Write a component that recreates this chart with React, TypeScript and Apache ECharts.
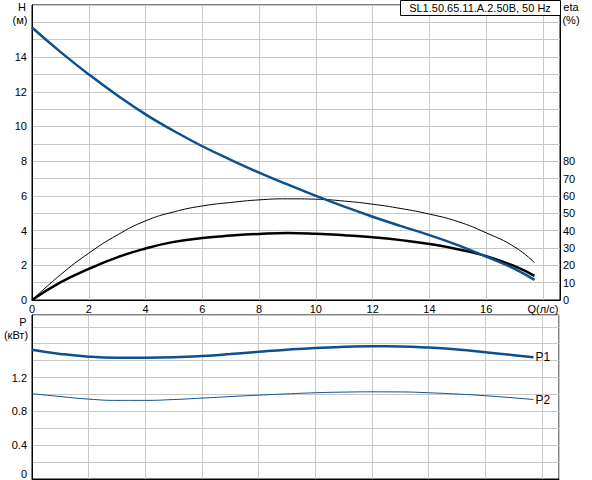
import { useEffect, useRef } from 'react';
import * as echarts from 'echarts';

// Q (л/с) sample points shared by all curves
const Q = [0, 1, 2, 3, 4, 5, 6, 7, 8, 9, 10, 11, 12, 13, 14, 15, 16, 17, 17.7];

// head H (м)
const H = [15.7, 14.3, 13.0, 11.8, 10.7, 9.74, 8.86, 8.08, 7.34, 6.66, 6.0, 5.38, 4.8, 4.26, 3.74, 3.16, 2.5, 1.8, 1.16];

// efficiencies (%)
const ETA_THICK = [0, 10.2, 17.9, 24.6, 29.7, 33.5, 35.7, 37.1, 38.1, 38.6, 38.2, 37.3, 36.1, 34.5, 32.3, 29.3, 25.3, 19.5, 13.9];
const ETA_THIN = [0, 14.5, 27, 37.4, 45.6, 50.8, 54.2, 56.2, 57.7, 58.3, 58.1, 57, 55.2, 52.7, 49.5, 45.2, 38.7, 30.6, 21.6];

// power (кВт)
const P1 = [1.53, 1.48, 1.447, 1.435, 1.435, 1.44, 1.455, 1.478, 1.505, 1.53, 1.55, 1.563, 1.57, 1.568, 1.555, 1.532, 1.5, 1.465, 1.44];
const P2 = [1.01, 0.975, 0.945, 0.93, 0.93, 0.94, 0.957, 0.975, 0.992, 1.007, 1.02, 1.028, 1.031, 1.03, 1.02, 1.005, 0.985, 0.96, 0.94];

const TITLE = 'SL1.50.65.11.A.2.50B, 50 Hz';

const BLUE = '#0c508d';
const GRID = '#c8c8c8';
const FONT = 'Liberation Sans';

const pairs = (ys: number[]) => Q.map((q, i) => [q, ys[i]]);
const isMult = (v: number, step: number) => Math.abs(v / step - Math.round(v / step)) < 1e-6;

export default function App() {
  const ref = useRef<HTMLDivElement>(null);

  useEffect(() => {
    if (!ref.current) return;
    const chart = echarts.init(ref.current, undefined, { renderer: 'svg' });
    const lbl = { color: '#000', fontFamily: FONT, fontSize: 11 };
    const split = { show: true, lineStyle: { color: GRID, width: 1 } };
    const axLine = { show: true, lineStyle: { color: '#000', width: 1 } };
    const txt = (text: string, x: number, y: number, z = 1) => ({
      type: 'text', x, y, z,
      style: { text, fill: '#000', font: `11px "${FONT}"`, align: 'center', verticalAlign: 'middle' },
    });

    chart.setOption({
      animation: false,
      backgroundColor: '#fff',
      textStyle: { fontFamily: FONT },
      grid: [
        { left: 32, top: 5, width: 528, height: 295, show: true, borderColor: '#000', borderWidth: 1, backgroundColor: '#fff' },
        { left: 32, top: 315, width: 527, height: 164, show: true, borderColor: '#000', borderWidth: 1, backgroundColor: '#fff' },
      ],
      xAxis: [
        {
          type: 'value', gridIndex: 0, min: 0, max: 18.6, interval: 2,
          axisLine: axLine, axisTick: { show: false }, splitLine: split,
          axisLabel: {
            ...lbl, margin: 3,
            formatter: (v: number) => (Math.abs(v - 18) < 1e-6 ? 'Q(л/с)' : isMult(v, 2) && v <= 16 ? String(v) : ''),
          },
        },
        {
          type: 'value', gridIndex: 1, min: 0, max: 18.6, interval: 2,
          axisLine: axLine, axisTick: { show: false }, splitLine: split,
          axisLabel: { show: false },
        },
      ],
      yAxis: [
        {
          type: 'value', gridIndex: 0, min: 0, max: 17, interval: 1,
          axisLine: axLine, axisTick: { show: false }, splitLine: split,
          axisLabel: { ...lbl, margin: 5, formatter: (v: number) => (isMult(v, 2) && v <= 14 ? String(v) : '') },
        },
        {
          type: 'value', gridIndex: 0, position: 'right', min: 0, max: 170, interval: 10,
          axisLine: axLine, axisTick: { show: false }, splitLine: { show: false },
          axisLabel: { ...lbl, margin: 3, formatter: (v: number) => (isMult(v, 10) && v <= 80 ? String(v) : '') },
        },
        {
          type: 'value', gridIndex: 1, min: 0, max: 1.94, interval: 0.2,
          axisLine: axLine, axisTick: { show: false }, splitLine: split,
          axisLabel: {
            ...lbl, margin: 5,
            formatter: (v: number) => {
              if (v < 1e-6) return '{z|0}';
              return isMult(v, 0.4) && v <= 1.3 ? String(Math.round(v * 10) / 10) : '';
            },
            rich: { z: { ...lbl, padding: [0, 0, 10, 0] } },
          },
        },
      ],
      series: [
        {
          name: 'H', type: 'line', xAxisIndex: 0, yAxisIndex: 0, data: pairs(H),
          smooth: true, showSymbol: false, lineStyle: { color: BLUE, width: 2.5 }, z: 5,
        },
        {
          name: 'eta1', type: 'line', xAxisIndex: 0, yAxisIndex: 1, data: pairs(ETA_THIN),
          smooth: true, showSymbol: false, lineStyle: { color: '#000', width: 1 }, z: 3,
        },
        {
          name: 'eta2', type: 'line', xAxisIndex: 0, yAxisIndex: 1, data: pairs(ETA_THICK),
          smooth: true, showSymbol: false, lineStyle: { color: '#000', width: 2.5 }, z: 4,
        },
        {
          name: 'P1', type: 'line', xAxisIndex: 1, yAxisIndex: 2, data: pairs(P1),
          smooth: true, showSymbol: false, lineStyle: { color: BLUE, width: 2.5 },
          endLabel: { show: true, formatter: 'P1', color: '#000', fontFamily: FONT, fontSize: 12, distance: 2 },
        },
        {
          name: 'P2', type: 'line', xAxisIndex: 1, yAxisIndex: 2, data: pairs(P2),
          smooth: true, showSymbol: false, lineStyle: { color: BLUE, width: 1 },
          endLabel: { show: true, formatter: 'P2', color: '#000', fontFamily: FONT, fontSize: 12, distance: 2 },
        },
      ],
      graphic: [
        { type: 'rect', left: 400, top: 0, shape: { width: 160, height: 15 }, style: { fill: '#fff', stroke: '#000', lineWidth: 1 }, z: 10 },
        txt(TITLE, 480, 8, 11),
        txt('H', 22, 7),
        txt('(м)', 20, 20),
        txt('eta', 571, 7),
        txt('(%)', 571, 20),
        txt('P', 23, 322),
        txt('(кВт)', 16, 335),
      ],
    });

    return () => chart.dispose();
  }, []);

  return <div ref={ref} style={{ position: 'fixed', left: 0, top: 0, width: 592, height: 480 }} />;
}
